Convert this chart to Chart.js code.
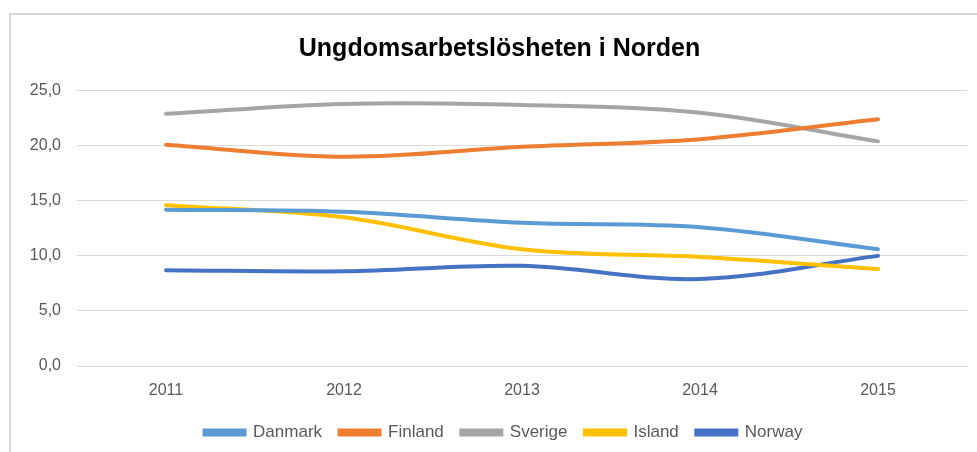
<!DOCTYPE html>
<html>
<head>
<meta charset="utf-8">
<script src="https://cdn.jsdelivr.net/npm/chart.js@4/dist/chart.umd.min.js"></script>
<style>
  html, body { margin: 0; padding: 0; background: #ffffff; width: 977px; height: 452px; overflow: hidden; }
  #frame { position: absolute; left: 9px; top: 13px; width: 980px; height: 450px; border-left: 2px solid #d9d9d9; border-top: 2px solid #d9d9d9; box-sizing: border-box; }
  #wrap { position: absolute; left: 0; top: 0; width: 977px; height: 452px; }
</style>
</head>
<body>
<div id="frame"></div>
<div id="wrap"><canvas id="c" width="977" height="452"></canvas></div>
<script>
const years = ['2011', '2012', '2013', '2014', '2015'];
const danmark = [14.2, 14.0, 13.0, 12.6, 10.6];
const finland = [20.1, 19.0, 19.9, 20.6, 22.4];
const sverige = [22.9, 23.8, 23.7, 23.0, 20.4];
const island  = [14.6, 13.5, 10.6, 9.9, 8.8];
const norway  = [8.7, 8.6, 9.1, 7.9, 10.0];
const yTicks = [0, 5, 10, 15, 20, 25];

const FONT = "'Liberation Sans', Arial, sans-serif";
const TXT = '#595959';

function ds(label, data, color) {
  return {
    label, data,
    borderColor: color, backgroundColor: color,
    borderWidth: 4, pointRadius: 0, pointHoverRadius: 0,
    tension: 0.35, fill: false, borderCapStyle: 'round'
  };
}

const shiftBoxes = {
  id: 'shiftBoxes',
  afterLayout(chart) {
    const lg = chart.legend;
    if (lg) { lg.left += 20; lg.right += 20; }
    const tt = chart.titleBlock;
    if (tt) { tt.left += 16; tt.right += 16; }
  }
};

new Chart(document.getElementById('c'), {
  type: 'line',
  data: {
    labels: years,
    datasets: [
      ds('Danmark', danmark, '#5B9BD5'),
      ds('Finland', finland, '#ED7D31'),
      ds('Sverige', sverige, '#A5A5A5'),
      ds('Island', island, '#FFC000'),
      ds('Norway', norway, '#4472C4')
    ]
  },
  plugins: [shiftBoxes],
  options: {
    responsive: false,
    animation: false,
    devicePixelRatio: 1,
    layout: { padding: { left: 0, right: 10, top: 0, bottom: 1 } },
    plugins: {
      title: {
        display: true,
        text: 'Ungdomsarbetslösheten i Norden',
        color: '#000000',
        font: { family: FONT, size: 25, weight: 'bold' },
        padding: { top: 34, bottom: 26.7 }
      },
      legend: {
        position: 'bottom',
        labels: {
          color: TXT,
          font: { family: FONT, size: 17 },
          boxWidth: 40, boxHeight: 4,
          padding: 17.5
        }
      },
      tooltip: { enabled: false }
    },
    scales: {
      x: {
        offset: true,
        afterFit: (s) => { s.height = 40.5; },
        grid: { display: false, drawTicks: false },
        border: { display: true, color: '#d9d9d9', width: 1 },
        ticks: { color: TXT, font: { family: FONT, size: 16 }, padding: 15 }
      },
      y: {
        min: 0, max: 25,
        afterFit: (s) => { s.width = 77; },
        afterBuildTicks: (s) => { s.ticks = yTicks.map(v => ({ value: v })); },
        grid: { color: '#d9d9d9', drawTicks: false },
        border: { display: false },
        ticks: {
          color: TXT, font: { family: FONT, size: 16 }, padding: 16,
          callback: (v) => v.toFixed(1).replace('.', ',')
        }
      }
    }
  }
});
</script>
</body>
</html>
